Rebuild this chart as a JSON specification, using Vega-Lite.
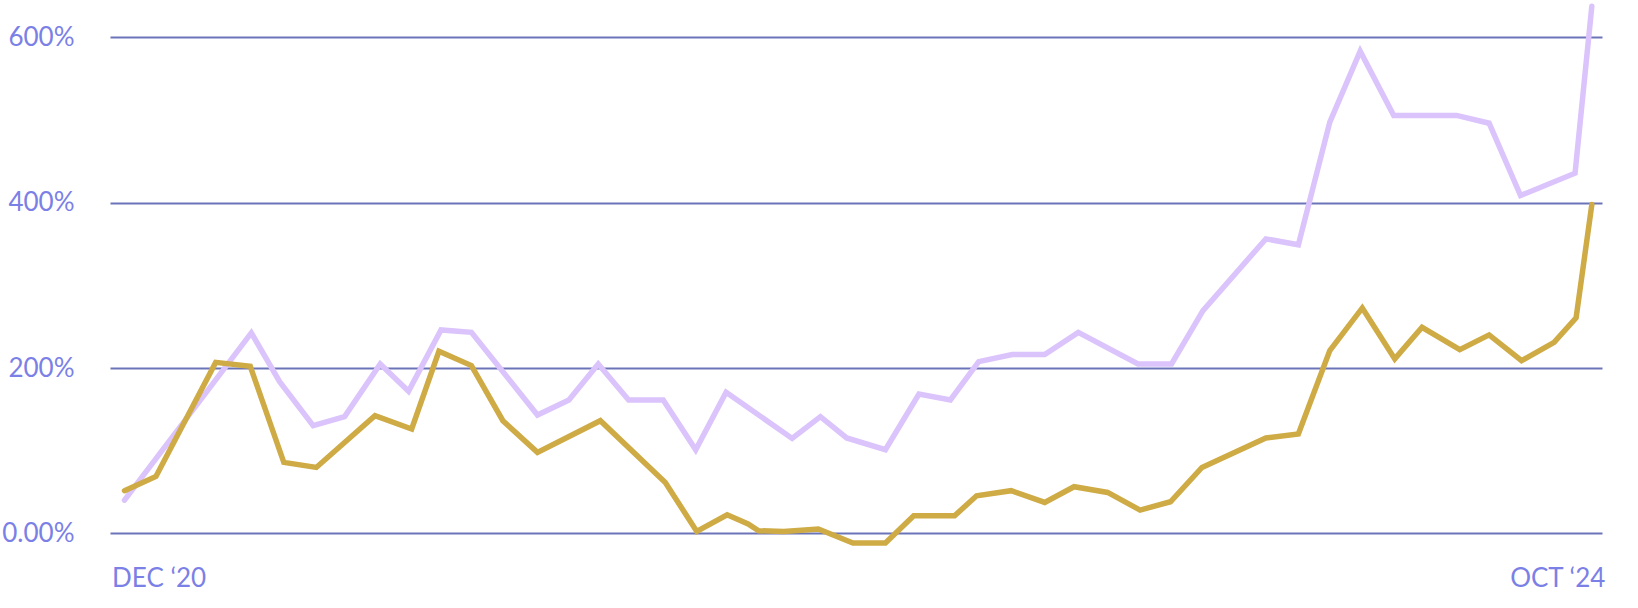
{
  "$schema": "https://vega.github.io/schema/vega-lite/v6.json",
  "autosize": {"type": "none"},
  "padding": {"left": 110, "top": 4, "right": 36, "bottom": 58},
  "width": 1492,
  "height": 546,
  "data": {
    "values": [
      {"date": "2020-12-01", "series": "A", "value": 40.2},
      {"date": "2021-04-01", "series": "A", "value": 242.4},
      {"date": "2021-04-28", "series": "A", "value": 183.5},
      {"date": "2021-05-30", "series": "A", "value": 130.3},
      {"date": "2021-06-29", "series": "A", "value": 141.2},
      {"date": "2021-08-02", "series": "A", "value": 204.9},
      {"date": "2021-08-29", "series": "A", "value": 171.8},
      {"date": "2021-09-29", "series": "A", "value": 246.0},
      {"date": "2021-10-28", "series": "A", "value": 243.1},
      {"date": "2021-12-30", "series": "A", "value": 143.2},
      {"date": "2022-01-29", "series": "A", "value": 161.4},
      {"date": "2022-02-26", "series": "A", "value": 204.9},
      {"date": "2022-03-27", "series": "A", "value": 161.4},
      {"date": "2022-04-29", "series": "A", "value": 161.4},
      {"date": "2022-05-30", "series": "A", "value": 101.2},
      {"date": "2022-06-28", "series": "A", "value": 170.6},
      {"date": "2022-08-30", "series": "A", "value": 114.9},
      {"date": "2022-09-26", "series": "A", "value": 141.2},
      {"date": "2022-10-21", "series": "A", "value": 115.4},
      {"date": "2022-11-27", "series": "A", "value": 101.2},
      {"date": "2022-12-29", "series": "A", "value": 168.6},
      {"date": "2023-01-28", "series": "A", "value": 161.4},
      {"date": "2023-02-24", "series": "A", "value": 207.7},
      {"date": "2023-03-28", "series": "A", "value": 216.2},
      {"date": "2023-04-28", "series": "A", "value": 216.2},
      {"date": "2023-05-30", "series": "A", "value": 243.1},
      {"date": "2023-07-26", "series": "A", "value": 204.9},
      {"date": "2023-08-27", "series": "A", "value": 204.9},
      {"date": "2023-09-26", "series": "A", "value": 269.4},
      {"date": "2023-11-25", "series": "A", "value": 356.1},
      {"date": "2023-12-26", "series": "A", "value": 348.9},
      {"date": "2024-01-25", "series": "A", "value": 497.2},
      {"date": "2024-02-23", "series": "A", "value": 583.0},
      {"date": "2024-03-26", "series": "A", "value": 505.3},
      {"date": "2024-05-25", "series": "A", "value": 505.3},
      {"date": "2024-06-25", "series": "A", "value": 495.9},
      {"date": "2024-07-25", "series": "A", "value": 408.5},
      {"date": "2024-09-15", "series": "A", "value": 435.5},
      {"date": "2024-10-01", "series": "A", "value": 637.4},
      {"date": "2020-12-01", "series": "B", "value": 51.7},
      {"date": "2020-12-31", "series": "B", "value": 68.9},
      {"date": "2021-02-26", "series": "B", "value": 206.8},
      {"date": "2021-03-31", "series": "B", "value": 202.0},
      {"date": "2021-05-02", "series": "B", "value": 85.9},
      {"date": "2021-06-02", "series": "B", "value": 79.8},
      {"date": "2021-07-28", "series": "B", "value": 142.4},
      {"date": "2021-09-01", "series": "B", "value": 126.3},
      {"date": "2021-09-27", "series": "B", "value": 220.2},
      {"date": "2021-10-28", "series": "B", "value": 202.9},
      {"date": "2021-11-27", "series": "B", "value": 136.3},
      {"date": "2021-12-30", "series": "B", "value": 98.0},
      {"date": "2022-02-28", "series": "B", "value": 136.3},
      {"date": "2022-05-01", "series": "B", "value": 61.7},
      {"date": "2022-05-31", "series": "B", "value": 2.4},
      {"date": "2022-06-29", "series": "B", "value": 22.6},
      {"date": "2022-07-19", "series": "B", "value": 11.4},
      {"date": "2022-07-29", "series": "B", "value": 3.3},
      {"date": "2022-08-22", "series": "B", "value": 2.4},
      {"date": "2022-09-24", "series": "B", "value": 5.3},
      {"date": "2022-10-27", "series": "B", "value": -11.6},
      {"date": "2022-11-27", "series": "B", "value": -11.6},
      {"date": "2022-12-24", "series": "B", "value": 21.4},
      {"date": "2023-02-01", "series": "B", "value": 21.4},
      {"date": "2023-02-22", "series": "B", "value": 45.6},
      {"date": "2023-03-27", "series": "B", "value": 51.7},
      {"date": "2023-04-28", "series": "B", "value": 37.5},
      {"date": "2023-05-26", "series": "B", "value": 56.5},
      {"date": "2023-06-27", "series": "B", "value": 49.6},
      {"date": "2023-07-28", "series": "B", "value": 28.3},
      {"date": "2023-08-26", "series": "B", "value": 38.3},
      {"date": "2023-09-25", "series": "B", "value": 79.8},
      {"date": "2023-11-25", "series": "B", "value": 115.4},
      {"date": "2023-12-26", "series": "B", "value": 120.2},
      {"date": "2024-01-25", "series": "B", "value": 221.0},
      {"date": "2024-02-25", "series": "B", "value": 272.6},
      {"date": "2024-03-27", "series": "B", "value": 211.0},
      {"date": "2024-04-22", "series": "B", "value": 249.2},
      {"date": "2024-05-28", "series": "B", "value": 222.2},
      {"date": "2024-06-25", "series": "B", "value": 240.0},
      {"date": "2024-07-26", "series": "B", "value": 208.9},
      {"date": "2024-08-26", "series": "B", "value": 231.0},
      {"date": "2024-09-16", "series": "B", "value": 260.6},
      {"date": "2024-10-01", "series": "B", "value": 397.6}
    ]
  },
  "encoding": {
    "x": {
      "field": "date",
      "type": "temporal",
      "title": null,
      "scale": {
        "type": "utc",
        "domain": [
          {"year": 2020, "month": 11, "date": 17, "hours": 4, "utc": true},
          {"year": 2024, "month": 10, "date": 10, "hours": 17, "utc": true}
        ]
      },
      "axis": {
        "values": [
          {"year": 2020, "month": 12, "date": 1, "utc": true},
          {"year": 2024, "month": 10, "date": 1, "utc": true}
        ],
        "labelExpr": "upper(utcFormat(datum.value, '%b')) + ' ‘' + utcFormat(datum.value, '%y')",
        "labelFlush": 20,
        "labelFlushOffset": 13,
        "labelBaseline": "alphabetic",
        "labelPadding": 36,
        "ticks": false,
        "domain": false,
        "grid": false
      }
    },
    "y": {
      "field": "value",
      "type": "quantitative",
      "title": null,
      "scale": {"domain": [-20, 640], "nice": false, "zero": false},
      "axis": {
        "values": [0, 200, 400, 600],
        "labelExpr": "datum.value == 0 ? '0.00%' : datum.value + '%'",
        "labelPadding": 36,
        "labelBaseline": "middle",
        "ticks": false,
        "domain": false,
        "grid": true,
        "gridColor": "#6c74b8",
        "gridWidth": 2,
        "gridOpacity": 1
      }
    }
  },
  "layer": [
    {
      "transform": [{"filter": "datum.series == 'A'"}],
      "mark": {"type": "line", "color": "#dbc3fb", "strokeWidth": 5.5, "strokeCap": "round"}
    },
    {
      "transform": [{"filter": "datum.series == 'B'"}],
      "mark": {"type": "line", "color": "#cfab45", "strokeWidth": 5.5, "strokeCap": "round"}
    }
  ],
  "config": {
    "view": {"stroke": null},
    "axis": {
      "labelFont": "Lato",
      "labelFontSize": 26,
      "labelColor": "#7b80e6"
    }
  }
}
